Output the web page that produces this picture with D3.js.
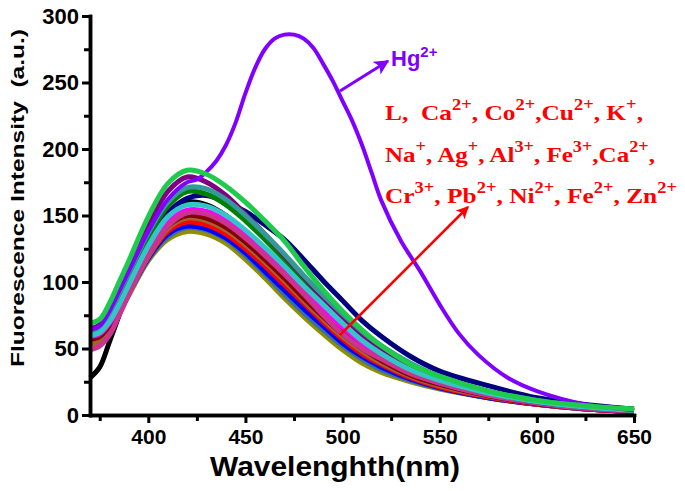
<!DOCTYPE html>
<html>
<head>
<meta charset="utf-8">
<script src="https://cdn.jsdelivr.net/npm/d3@7"></script>
<style>
  html, body { margin: 0; padding: 0; background: #fff; }
  svg { display: block; }
  text { white-space: pre; }
</style>
</head>
<body>
<svg id="chart" width="685" height="491"></svg>
<script>
// ---------------- DATA ----------------
const wavelengths = [370, 375, 380, 385, 390, 400, 410, 420, 430, 440, 450, 460, 470, 480, 490, 500, 510, 520, 535, 550, 575, 600, 625, 650];

const intensityL    = [28, 36, 55, 75, 94, 130, 151, 160, 158, 150, 138, 124, 109, 94, 79, 65, 53, 43, 32, 24, 15, 9, 5, 3];
const intensityCa   = [56, 58, 66, 79, 93, 119, 138, 145, 143, 136, 125, 112, 98, 84, 70, 57, 46, 38, 28, 21, 13.5, 8, 4.5, 2.5];
const intensityCo   = [69, 72, 84, 100, 116, 149, 174, 184, 181, 172, 160, 146, 131, 112, 94, 78, 64, 52, 38, 29, 18, 11, 7, 4.5];
const intensityCu   = [58, 60, 67, 79, 92, 118, 136, 142, 140, 133, 122, 108, 94, 80, 67, 54, 44, 36, 27, 20.5, 13, 8, 4.5, 2.5];
const intensityK    = [60, 62, 70, 83, 98, 127, 149, 158, 157, 150, 139, 126, 112, 97, 83, 69, 56, 46, 34, 26, 16.5, 10, 6, 3.5];
const intensityNa   = [59, 61, 69, 82, 96, 124, 145, 154, 153, 146, 135, 122, 108, 93, 79, 66, 54, 44, 32, 24, 15, 9, 5, 3];
const intensityAg   = [53, 55, 63, 76, 90, 116, 132, 138, 136, 129, 117, 103, 88, 74, 61, 49, 39, 32, 25, 19.5, 13, 8, 4.5, 2.5];
const intensityAl   = [61, 63, 72, 86, 101, 130, 152, 163, 165, 160, 153, 143, 132, 117, 101, 86, 71, 59, 44, 33, 22, 13, 8, 4.5];
const intensityFe3  = [65, 68, 80, 95, 111, 143, 168, 179, 175, 165, 151, 136, 120, 104, 88, 73, 60, 49, 36, 27, 17, 10, 6, 4];
const intensityCa2  = [57, 59, 67, 80, 94, 121, 142, 150, 148, 141, 130, 117, 103, 88, 74, 61, 50, 41, 30, 23, 14.5, 8.5, 5, 3];
const intensityCr   = [62, 65, 75, 90, 105, 134, 157, 168, 166, 158, 146, 132, 117, 101, 86, 72, 59, 48, 36, 27, 17, 10, 6, 3.5];
const intensityPb   = [63, 66, 77, 92, 107, 137, 160, 171, 170, 162, 150, 136, 121, 105, 90, 76, 63, 52, 39, 29, 18, 11, 6.5, 4];
const intensityNi   = [55, 57, 65, 77, 91, 117, 134, 141, 139, 132, 120, 106, 91, 77, 64, 52, 42, 34, 26, 20, 13, 8, 4.5, 2.5];
const intensityFe2  = [54, 56, 64, 78, 92, 119, 140, 148, 146, 139, 128, 115, 101, 86, 72, 59, 48, 39, 29, 22, 14, 8.5, 5, 3];
const intensityZn   = [49, 52, 60, 75, 91, 120, 142, 152, 151, 144, 133, 120, 106, 91, 75, 61, 50, 42, 31, 24, 15, 9, 5, 3];

const hgWavelengths = [370, 375, 380, 385, 390, 400, 410, 420, 425, 430, 435, 440, 445, 450, 455, 460, 465, 470, 475, 480, 485, 490, 495, 500, 505, 510, 515, 520, 530, 540, 550, 560, 570, 585, 600, 625, 650];
const hgIntensity   = [64, 67, 78, 93, 108, 138, 162, 175, 177, 183, 191, 203, 220, 242, 261, 275, 283, 286, 286, 283, 276, 264, 251, 236, 221, 203, 182, 161, 131, 108, 83, 61, 45, 28, 18, 8, 3.5];

const xTicks = [400, 450, 500, 550, 600, 650];
const yTicks = [0, 50, 100, 150, 200, 250, 300];

const ionLines = [
  [["L,  ", ""], ["Ca", "2+"], [", Co", "2+"], [",Cu", "2+"], [", K", "+"], [",", ""]],
  [["Na", "+"], [", Ag", "+"], [", Al", "3+"], [", Fe", "3+"], [",Ca", "2+"], [",", ""]],
  [["Cr", "3+"], [", Pb", "2+"], [", Ni", "2+"], [", Fe", "2+"], [", Zn", "2+"]]
];

// series in drawing order (bottom first)
const series = [
  { name: "Ag+",  values: intensityAg,  color: "#8f8f00" },
  { name: "Ni2+", values: intensityNi,  color: "#3a6ea8" },
  { name: "Cu2+", values: intensityCu,  color: "#0000ff" },
  { name: "Ca2+", values: intensityCa,  color: "#ff0000" },
  { name: "Fe2+", values: intensityFe2, color: "#a0642d" },
  { name: "Ca2+ (2)", values: intensityCa2, color: "#800000" },
  { name: "L",    values: intensityL,   color: "#000000" },
  { name: "Na+",  values: intensityNa,  color: "#ff00ff" },
  { name: "Zn2+", values: intensityZn,  color: "#cc3390" },
  { name: "Al3+", values: intensityAl,  color: "#000080" },
  { name: "Cr3+", values: intensityCr,  color: "#008000" },
  { name: "Fe3+", values: intensityFe3, color: "#800080" },
  { name: "Pb2+", values: intensityPb,  color: "#339999" },
  { name: "K+",   values: intensityK,   color: "#33c6c8" }
];
const topSeries = { name: "Co2+", values: intensityCo, color: "#1ecb4b" };

// ---------------- CHART ----------------
const svg = d3.select("#chart");
const x = d3.scaleLinear().domain([370, 650]).range([90, 634]);
const y = d3.scaleLinear().domain([0, 300]).range([415, 16]);

const line = d3.line().x(d => x(d[0])).y(d => y(d[1])).curve(d3.curveCatmullRom.alpha(0.5));

const gLines = svg.append("g").attr("fill", "none").attr("stroke-linecap", "butt").attr("stroke-linejoin", "round");
series.forEach(s => {
  gLines.append("path")
    .attr("d", line(wavelengths.map((w, i) => [w, s.values[i]])))
    .attr("stroke", s.color).attr("stroke-width", 5);
});
gLines.append("path")
  .attr("d", line(hgWavelengths.map((w, i) => [w, hgIntensity[i]])))
  .attr("stroke", "#8000ff").attr("stroke-width", 4);
gLines.append("path")
  .attr("d", line(wavelengths.map((w, i) => [w, topSeries.values[i]])))
  .attr("stroke", topSeries.color).attr("stroke-width", 5);

// axes
const font = "'Liberation Sans', Arial, sans-serif";
const xAxis = d3.axisBottom(x).tickValues(xTicks).tickSize(8).tickSizeOuter(0).tickPadding(6);
const xMinor = d3.axisBottom(x).tickValues([375, 425, 475, 525, 575, 625]).tickSize(6).tickFormat("").tickSizeOuter(0);
const yAxis = d3.axisLeft(y).tickValues(yTicks).tickSize(8).tickSizeOuter(0).tickPadding(3);
const yMinor = d3.axisLeft(y).tickValues([25, 75, 125, 175, 225, 275]).tickSize(6).tickFormat("").tickSizeOuter(0);

function styleAxis(g, size) {
  g.select(".domain").attr("stroke", "#000").attr("stroke-width", 3.5);
  g.selectAll(".tick line").attr("stroke", "#000").attr("stroke-width", 3);
  g.selectAll(".tick text").attr("fill", "#000").attr("font-family", font).attr("font-weight", "bold").attr("font-size", size);
}
svg.append("g").attr("transform", "translate(0,415)").call(xMinor).call(styleAxis, 21);
svg.append("g").attr("transform", "translate(0,415)").call(xAxis).call(styleAxis, 21);
svg.append("g").attr("transform", "translate(90,0)").call(yMinor).call(styleAxis, 22);
svg.append("g").attr("transform", "translate(90,0)").call(yAxis).call(styleAxis, 22);
svg.selectAll(".domain").attr("stroke-linecap", "square");

// axis titles
svg.append("text").attr("x", 335).attr("y", 476).attr("text-anchor", "middle")
  .attr("font-family", font).attr("font-weight", "bold").attr("font-size", 28)
  .attr("textLength", 250).attr("lengthAdjust", "spacingAndGlyphs")
  .text("Wavelenghth(nm)");
svg.append("text").attr("transform", "translate(24,198) rotate(-90)").attr("text-anchor", "middle")
  .attr("font-family", font).attr("font-weight", "bold").attr("font-size", 19)
  .attr("textLength", 338).attr("lengthAdjust", "spacingAndGlyphs")
  .text("Fluorescence Intensity  (a.u.)");

// annotations
const defs = svg.append("defs");
function marker(id, color) {
  defs.append("marker").attr("id", id).attr("viewBox", "0 0 10 10").attr("refX", 9).attr("refY", 5)
    .attr("markerWidth", 5).attr("markerHeight", 5).attr("orient", "auto")
    .append("path").attr("d", "M0,0 L10,5 L0,10 L2.5,5 Z").attr("fill", color);
}
marker("arrP", "#8000ff");
marker("arrR", "#ff0000");
svg.append("line").attr("x1", 340).attr("y1", 91).attr("x2", 388).attr("y2", 61)
  .attr("stroke", "#8000ff").attr("stroke-width", 3).attr("marker-end", "url(#arrP)");
svg.append("line").attr("x1", 340).attr("y1", 335).attr("x2", 468).attr("y2", 207)
  .attr("stroke", "#ff0000").attr("stroke-width", 2.5).attr("marker-end", "url(#arrR)");

const hg = svg.append("text").attr("x", 391).attr("y", 66)
  .attr("font-family", font).attr("font-weight", "bold").attr("font-size", 22).attr("fill", "#8000ff");
hg.append("tspan").text("Hg");
hg.append("tspan").attr("dy", -9).attr("font-size", 15).text("2+");

const baselines = [120, 162, 203];
const lineWidths = [258, 270, 292];
ionLines.forEach((parts, li) => {
  const t = svg.append("text").attr("x", 385).attr("y", baselines[li])
    .attr("font-family", "'Liberation Serif', 'Times New Roman', serif").attr("font-weight", "bold")
    .attr("font-size", 22).attr("fill", "#ff0000")
    .attr("textLength", lineWidths[li]).attr("lengthAdjust", "spacingAndGlyphs");
  let raised = false;
  parts.forEach(([base, sup]) => {
    t.append("tspan").attr("font-size", 22).attr("dy", raised ? 10 : 0).text(base);
    raised = false;
    if (sup) {
      t.append("tspan").attr("dy", -10).attr("font-size", 16).text(sup);
      raised = true;
    }
  });
});
</script>
</body>
</html>
